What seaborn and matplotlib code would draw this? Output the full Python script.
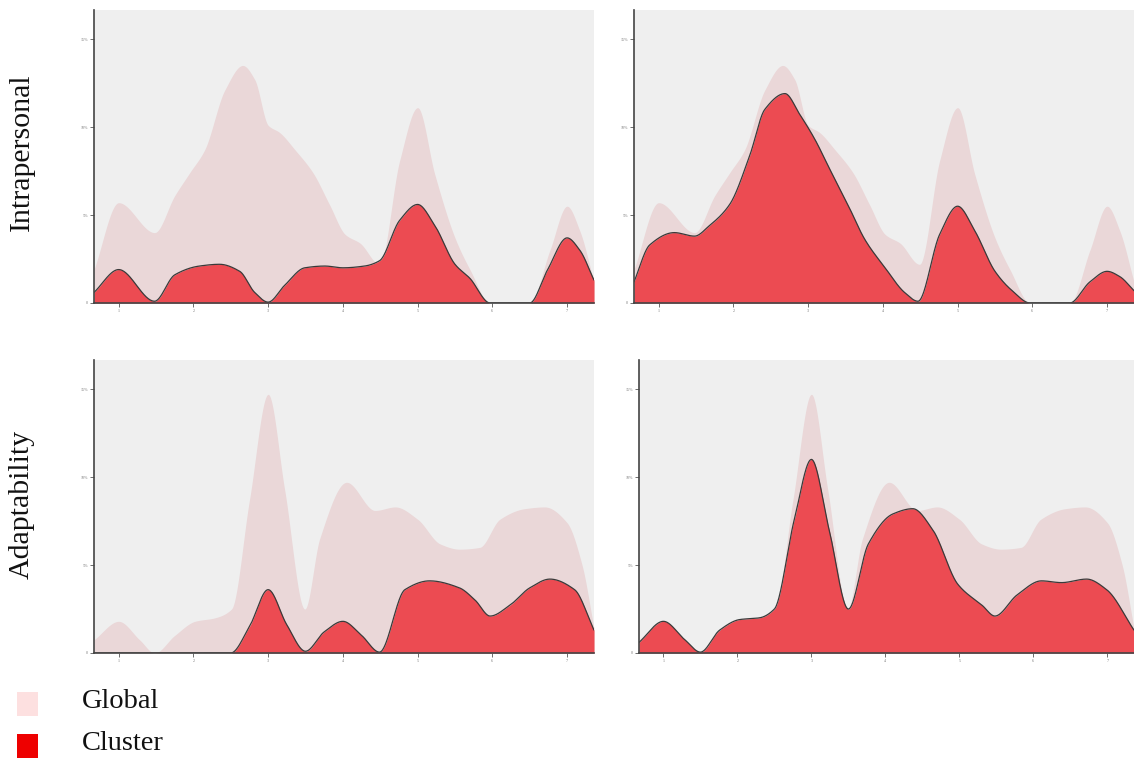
import numpy as np
import matplotlib
matplotlib.use("Agg")
import matplotlib.pyplot as plt
from matplotlib.patches import Rectangle
import seaborn as sns

# ---------------- data (y in % of cases) ----------------
row_labels = ["Intrapersonal", "Adaptability"]
legend_labels = ["Global", "Cluster"]
x_ticks = [1, 2, 3, 4, 5, 6, 7]
y_ticks = [0, 5, 10, 15]
y_tick_labels = ["0", "5%", "10%", "15%"]

# Intrapersonal - global distribution (shared by both top panels)
glob_top_x = [0.67, 1.0, 1.48, 1.75, 1.95, 2.15, 2.42, 2.66, 2.82, 3.0, 3.15, 3.36, 3.6,
              3.82, 4.03, 4.23, 4.49, 4.76, 5.0, 5.23, 5.5, 5.7, 5.97, 6.5, 6.77, 7.0,
              7.17, 7.36]
glob_top_y = [1.9, 5.7, 4.0, 6.1, 7.4, 8.7, 12.1, 13.5, 12.7, 10.1, 9.7, 8.7, 7.4,
              5.6, 3.9, 3.4, 2.2, 8.1, 11.1, 7.3, 3.7, 1.9, 0.0, 0.0, 3.0, 5.5,
              4.1, 1.2]

# Intrapersonal - cluster A (left)
clu_tl_x = [0.67, 1.0, 1.48, 1.75, 2.08, 2.35, 2.62, 2.82, 3.0, 3.22, 3.49, 3.76, 4.0,
            4.29, 4.49, 4.76, 5.0, 5.23, 5.5, 5.7, 5.97, 6.5, 6.74, 7.0, 7.17, 7.36]
clu_tl_y = [0.6, 1.9, 0.1, 1.6, 2.1, 2.2, 1.8, 0.6, 0.05, 1.0, 2.0, 2.1, 2.0,
            2.1, 2.4, 4.7, 5.6, 4.4, 2.2, 1.4, 0.0, 0.0, 1.9, 3.7, 3.0, 1.3]

# Intrapersonal - cluster B (right)
clu_tr_x = [0.67, 0.88, 1.21, 1.48, 1.68, 1.95, 2.22, 2.42, 2.69, 2.89, 3.09, 3.29, 3.53,
            3.76, 4.03, 4.29, 4.47, 4.76, 5.0, 5.23, 5.5, 5.73, 5.97, 6.5, 6.77, 7.0,
            7.17, 7.36]
clu_tr_y = [1.2, 3.3, 4.0, 3.8, 4.4, 5.6, 8.4, 11.0, 11.9, 10.7, 9.3, 7.6, 5.6,
            3.6, 2.0, 0.6, 0.1, 3.9, 5.5, 4.1, 1.8, 0.7, 0.0, 0.0, 1.2, 1.8,
            1.5, 0.7]

# Adaptability - global distribution (shared by both bottom panels)
glob_bot_x = [0.67, 1.0, 1.28, 1.48, 1.75, 2.02, 2.29, 2.51, 2.75, 3.0, 3.22, 3.49, 3.69,
              4.05, 4.43, 4.7, 5.0, 5.3, 5.56, 5.83, 6.1, 6.43, 6.7, 7.0, 7.2, 7.36]
glob_bot_y = [0.75, 1.8, 0.75, 0.0, 1.0, 1.8, 2.0, 2.5, 8.7, 14.7, 9.3, 2.5, 6.5,
              9.7, 8.1, 8.3, 7.6, 6.2, 5.9, 6.0, 7.6, 8.2, 8.3, 7.4, 5.0, 1.4]

# Adaptability - cluster A (left)
clu_bl_x = [0.67, 2.5, 2.75, 3.0, 3.25, 3.5, 3.75, 4.0, 4.25, 4.49, 4.83, 5.16, 5.56,
            5.77, 5.97, 6.23, 6.5, 6.77, 7.1, 7.36]
clu_bl_y = [0.0, 0.0, 1.5, 3.6, 1.6, 0.1, 1.2, 1.8, 1.0, 0.05, 3.6, 4.1, 3.7,
            3.0, 2.1, 2.7, 3.7, 4.2, 3.6, 1.3]

# Adaptability - cluster B (right)
clu_br_x = [0.67, 1.0, 1.29, 1.5, 1.76, 2.03, 2.3, 2.5, 2.77, 3.0, 3.24, 3.5, 3.77,
            4.1, 4.37, 4.64, 4.98, 5.31, 5.48, 5.78, 6.11, 6.38, 6.72, 6.99, 7.36]
clu_br_y = [0.6, 1.8, 0.75, 0.05, 1.3, 1.9, 2.0, 2.5, 7.6, 11.0, 7.0, 2.5, 6.2,
            7.9, 8.2, 7.0, 3.9, 2.7, 2.1, 3.3, 4.1, 4.0, 4.2, 3.6, 1.3]

# ---------------- style ----------------
BG = "#efefef"
GLOBAL_FILL = "#ead7d8"
CLUSTER_FILL = "#ec4b52"
CLUSTER_EDGE = "#3a3a3a"
LEG_GLOBAL = "#fde0e0"
LEG_CLUSTER = "#ee0000"
XLIM = (0.67, 7.36)


def pchip(x, y, xs):
    """Shape-preserving cubic (Fritsch-Carlson) curve through the read values."""
    x = np.asarray(x, float)
    y = np.asarray(y, float)
    h = np.diff(x)
    d = np.diff(y) / h
    n = len(x)
    m = np.zeros(n)
    for k in range(1, n - 1):
        if d[k - 1] * d[k] > 0:
            w1 = 2 * h[k] + h[k - 1]
            w2 = h[k] + 2 * h[k - 1]
            m[k] = (w1 + w2) / (w1 / d[k - 1] + w2 / d[k])
    m[0] = d[0]
    m[-1] = d[-1]
    xs = np.clip(xs, x[0], x[-1])
    idx = np.clip(np.searchsorted(x, xs) - 1, 0, n - 2)
    t = (xs - x[idx]) / h[idx]
    h00 = 2 * t**3 - 3 * t**2 + 1
    h10 = t**3 - 2 * t**2 + t
    h01 = -2 * t**3 + 3 * t**2
    h11 = t**3 - t**2
    out = h00 * y[idx] + h10 * h[idx] * m[idx] + h01 * y[idx + 1] + h11 * h[idx] * m[idx + 1]
    return np.maximum(out, 0)


sns.set_theme(style="white")
plt.rcParams["font.family"] = ["Liberation Serif", "DejaVu Serif"]

fig = plt.figure(figsize=(11.34, 7.6), dpi=100)
W, H = 1134.0, 760.0

panels = [
    # (left px, right px, top px, bottom px, global, cluster)
    (94, 594, 10, 303, (glob_top_x, glob_top_y), (clu_tl_x, clu_tl_y)),
    (634, 1134, 10, 303, (glob_top_x, glob_top_y), (clu_tr_x, clu_tr_y)),
    (94, 594, 360, 653, (glob_bot_x, glob_bot_y), (clu_bl_x, clu_bl_y)),
    (639, 1134, 360, 653, (glob_bot_x, glob_bot_y), (clu_br_x, clu_br_y)),
]

xs = np.linspace(XLIM[0], XLIM[1], 1200)
for (l, r, t, b, g, c) in panels:
    ax = fig.add_axes([l / W, 1 - b / H, (r - l) / W, (b - t) / H])
    ax.set_facecolor(BG)
    gy = pchip(g[0], g[1], xs)
    cy = pchip(c[0], c[1], xs)
    ax.fill_between(xs, 0, gy, color=GLOBAL_FILL, lw=0)
    ax.fill_between(xs, 0, cy, color=CLUSTER_FILL, lw=0)
    sns.lineplot(x=xs, y=cy, ax=ax, color=CLUSTER_EDGE, lw=0.9)
    ax.set_xlim(*XLIM)
    ax.set_ylim(0, 16.65)
    ax.set_xticks(x_ticks)
    ax.set_xticklabels([str(v) for v in x_ticks])
    ax.set_yticks(y_ticks)
    ax.set_yticklabels(y_tick_labels)
    ax.tick_params(axis="both", which="major", length=3, width=0.6, color="#555555",
                   labelsize=3, labelcolor="#777777", pad=1.5, direction="out",
                   bottom=True, left=True)
    for s in ("top", "right"):
        ax.spines[s].set_visible(False)
    for s in ("left", "bottom"):
        ax.spines[s].set_color("#444444")
        ax.spines[s].set_linewidth(1.2)
    ax.set_xlabel("")
    ax.set_ylabel("")
    ax.grid(False)

# row labels
fig.text(22 / W, 1 - 152 / H, row_labels[0], rotation=90, ha="center", va="center",
         fontsize=21.5, color="#111111")
fig.text(22 / W, 1 - 504 / H, row_labels[1], rotation=90, ha="center", va="center",
         fontsize=21.5, color="#111111")

# legend
fig.patches.append(Rectangle((17 / W, 1 - 716 / H), 21 / W, 24 / H, transform=fig.transFigure,
                             facecolor=LEG_GLOBAL, edgecolor="none"))
fig.patches.append(Rectangle((17 / W, 1 - 758 / H), 21 / W, 24 / H, transform=fig.transFigure,
                             facecolor=LEG_CLUSTER, edgecolor="none"))
fig.text(82 / W, 1 - 701 / H, legend_labels[0], ha="left", va="center", fontsize=20.5,
         color="#111111")
fig.text(82 / W, 1 - 743 / H, legend_labels[1], ha="left", va="center", fontsize=20.5,
         color="#111111")

fig.savefig("out.png", dpi=100, facecolor="white")
